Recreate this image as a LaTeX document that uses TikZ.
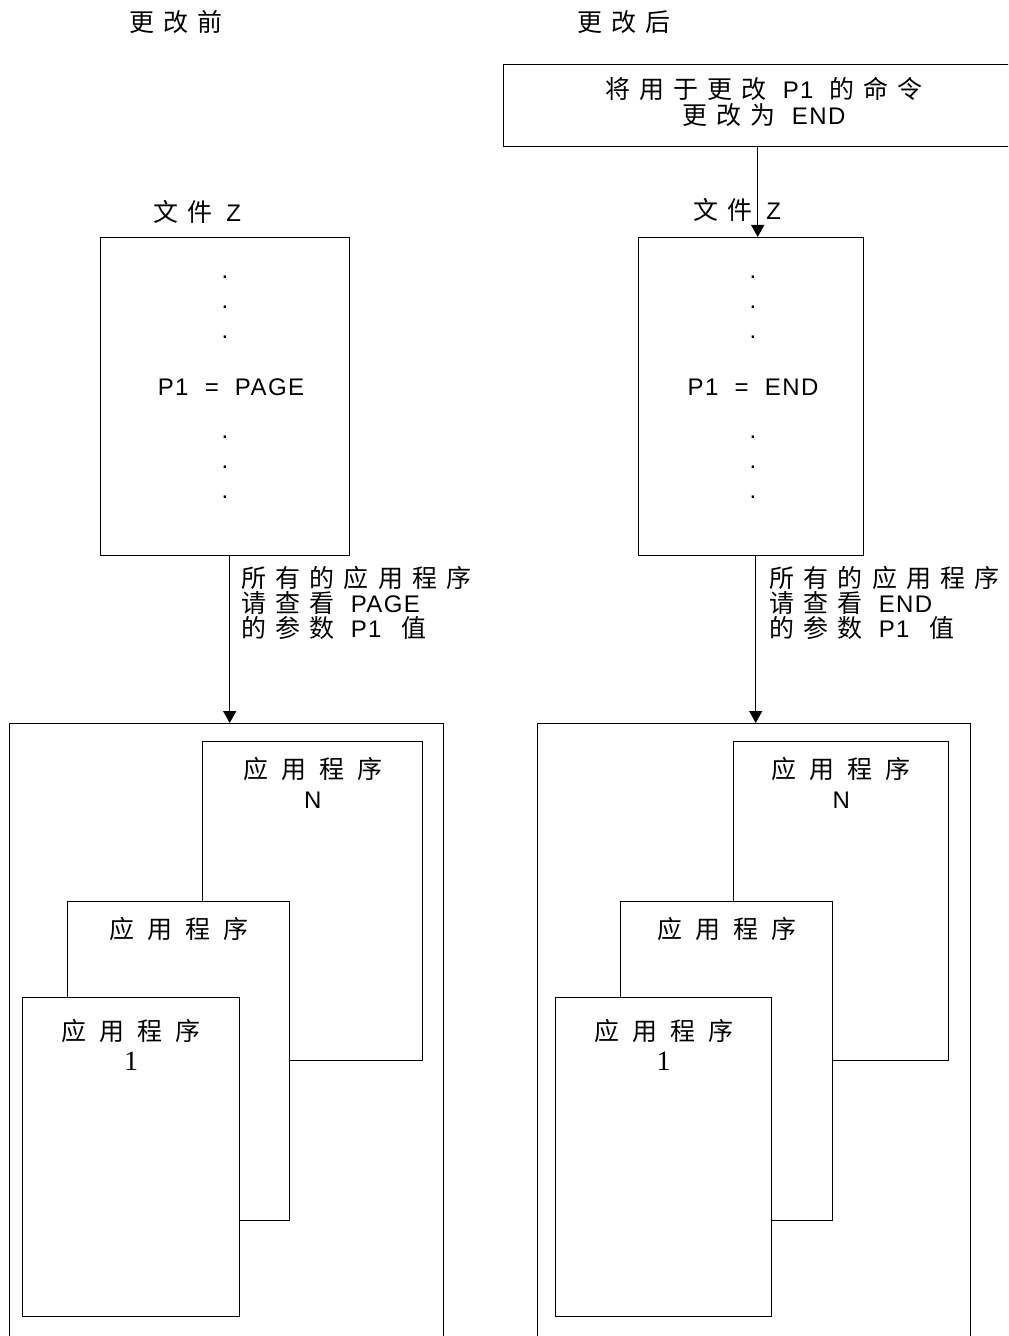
\documentclass[tikz,border=0pt]{standalone}
\usepackage{fontspec}
\setmainfont{Liberation Sans}[LetterSpace=6]
\newfontfamily\cjk{Noto Sans CJK SC}[LetterSpace=37, Scale=1.04]
\newfontfamily\cjkapp{Noto Sans CJK SC}[LetterSpace=52, Scale=1.04]
\newfontfamily\numfont{Liberation Serif}
\newcommand\jgap[1][8pt]{\hspace{#1}}
\usetikzlibrary{arrows.meta,positioning}
\tikzset{
  frame/.style={draw, line width=0.7pt, fill=white, anchor=north west, inner sep=0pt},
  txt/.style={font=\fontsize{12}{12.5}\selectfont, inner sep=0pt, align=center},
  apptxt/.style={font=\fontsize{12}{15}\selectfont\cjkapp, inner sep=0pt, align=center, anchor=north},
  feed/.style={line width=0.7pt, -{Triangle[length=6pt,width=6.5pt]}}
}
\begin{document}
\begin{tikzpicture}[x=0.5pt, y=-0.5pt]
  \clip (0,0) rectangle (1008,1336);
  % headings
  \node[txt] (headL) at (176,22) {\cjk 更改前};
  \node[txt] (headR) at (624,22) {\cjk 更改后};
  % command box
  \node[frame, minimum width=254pt, minimum height=41pt] (cmd) at (503,64) {};
  \node[txt] (cmdtxt) at (764,102) {{\cjk 将用于更改}\jgap P1\jgap{\cjk 的命令}\\[0.5pt]{\cjk 更改为}\jgap END};
  % the two files
  \node[txt] (nameL) at (197,212) {{\cjk 文件}\jgap[7pt]Z};
  \node[frame, minimum width=124.5pt, minimum height=159pt] (fileL) at (100,237) {};
  \node[txt] (nameR) at (737,210) {{\cjk 文件}\jgap[7pt]Z};
  \node[frame, minimum width=112.5pt, minimum height=159pt] (fileR) at (638,237) {};
  \foreach \y in {277,307,337,437,467,497} {
    \node[txt] (dotL\y) at (225,\y) {.};
    \node[txt] (dotR\y) at (753,\y) {.};
  }
  \node[txt] (valL) at (231,387) {P1~~=~~PAGE};
  \node[txt] (valR) at (753,387) {P1~~=~~END};
  % notes beside the arrows
  \node[txt, align=left, anchor=north west] (noteL) at (241,566)
    {{\cjk 所有的应用程序}\\{\cjk 请查看}\jgap PAGE\\{\cjk 的参数}\jgap P1\jgap[10pt]{\cjk 值}};
  \node[txt, align=left, anchor=north west] (noteR) at (769,566)
    {{\cjk 所有的应用程序}\\{\cjk 请查看}\jgap END\\{\cjk 的参数}\jgap P1\jgap[10pt]{\cjk 值}};
  % hosts with the applications
  \node[frame, minimum width=217pt, minimum height=350pt] (hostL) at (9,723) {};
  \node[frame, minimum width=216.5pt, minimum height=350pt] (hostR) at (537,723) {};
  \node[frame, minimum width=110pt, minimum height=159.5pt] (appNL) at (202,741) {};
  \node[frame, minimum width=111pt, minimum height=159.5pt] (appML) at (67,901) {};
  \node[frame, minimum width=108.5pt, minimum height=159.5pt] (app1L) at (22,997) {};
  \node[frame, minimum width=107.5pt, minimum height=159.5pt] (appNR) at (733,741) {};
  \node[frame, minimum width=106pt, minimum height=159.5pt] (appMR) at (620,901) {};
  \node[frame, minimum width=108pt, minimum height=159.5pt] (app1R) at (555,997) {};
  \node[apptxt, below=8pt of appNL.north] (appNLtxt) {应用程序\\{\normalfont N}};
  \node[apptxt, below=8pt of appML.north] (appMLtxt) {应用程序};
  \node[apptxt, below=11pt of app1L.north] (app1Ltxt) {应用程序\\{\numfont\fontsize{14}{15}\selectfont 1}};
  \node[apptxt, below=8pt of appNR.north] (appNRtxt) {应用程序\\{\normalfont N}};
  \node[apptxt, below=8pt of appMR.north] (appMRtxt) {应用程序};
  \node[apptxt, below=11pt of app1R.north] (app1Rtxt) {应用程序\\{\numfont\fontsize{14}{15}\selectfont 1}};
  % arrows
  \draw[feed] (cmd.south) -- (cmd.south |- fileR.north);
  \draw[feed] ([xshift=2.25pt]fileL.south) -- ([xshift=2.25pt]fileL.south |- hostL.north);
  \draw[feed] ([xshift=2.25pt]fileR.south) -- ([xshift=2.25pt]fileR.south |- hostR.north);
\end{tikzpicture}
\end{document}
